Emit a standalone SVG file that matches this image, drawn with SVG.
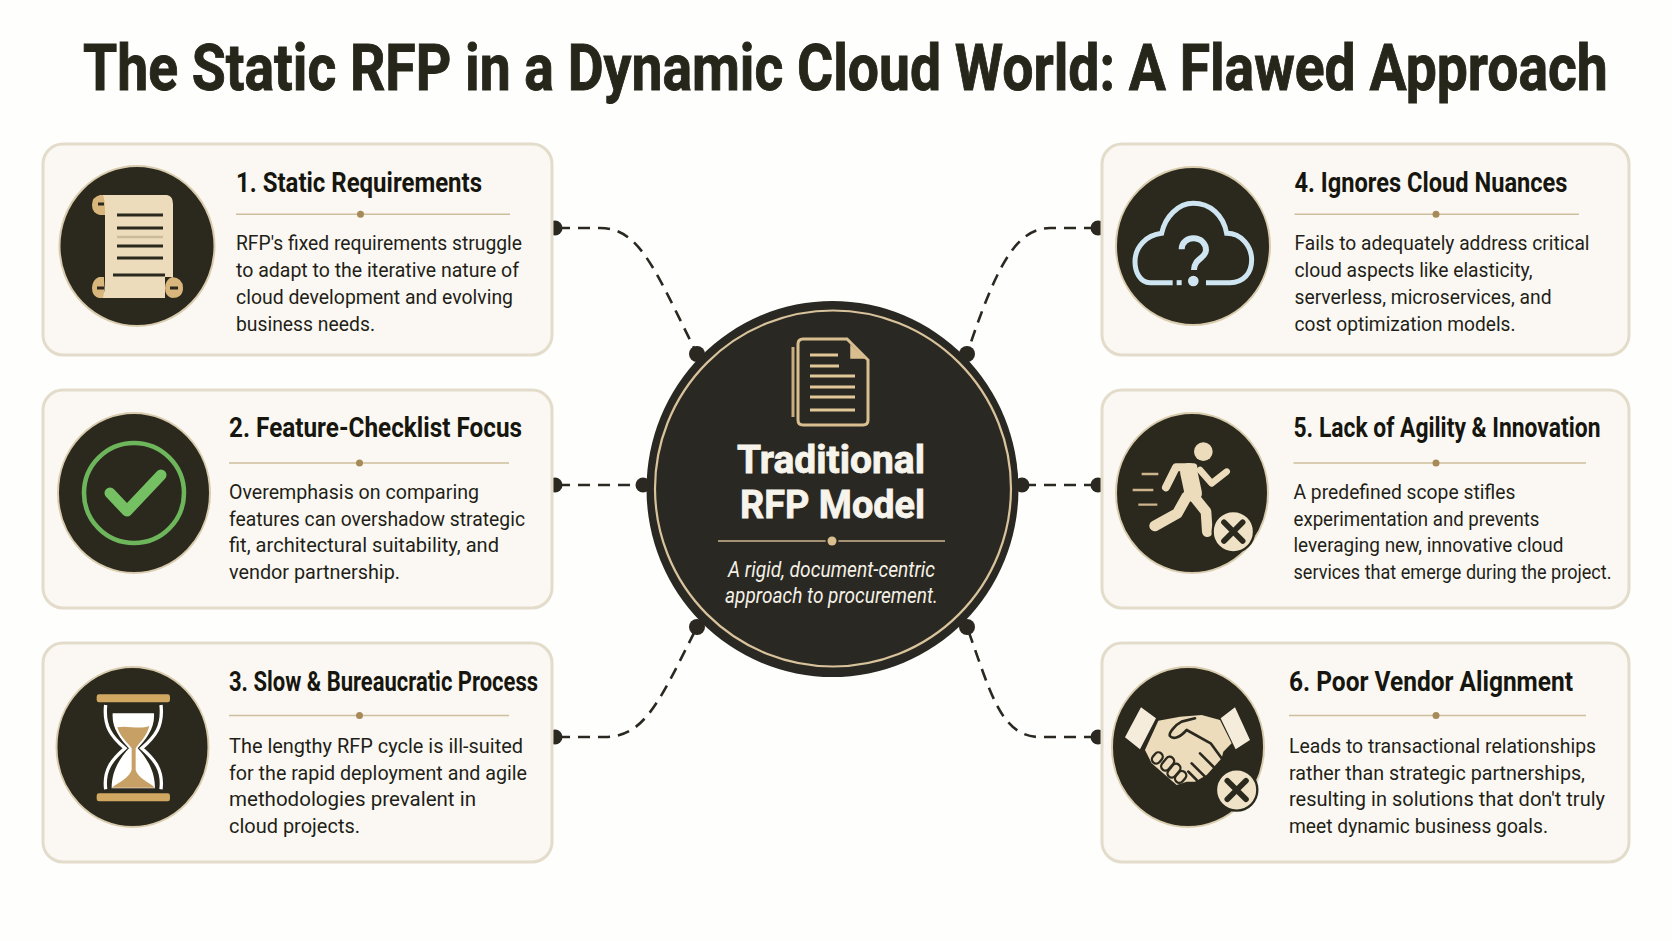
<svg xmlns="http://www.w3.org/2000/svg" width="1672" height="941" viewBox="0 0 1672 941">
<style>
text{font-family:Roboto,"Liberation Sans",sans-serif}
.title{font-size:64px;font-weight:700;fill:#26261a;stroke:#26261a;stroke-width:.9}
.h{font-size:28px;font-weight:700;fill:#16160f}
.b{font-size:21px;fill:#1f1f18}
.card{fill:#fbf8f3;stroke:#e3dccb;stroke-width:3}
.disc{fill:#2b291e;stroke:#d9ccae;stroke-width:2}
.rule{stroke:#cdbf9d;stroke-width:1.6}
.pip{fill:#a88a58}
.conn{fill:none;stroke:#2a2820;stroke-width:2.6;stroke-dasharray:12 8}
.jd{fill:#2a2820}
.ink{fill:none;stroke:#2b291e;stroke-linecap:round;stroke-linejoin:round}
.cream{fill:#ecdcbc}
.tan{fill:#d9b77c}
.lim{fill:none;stroke:#ecdcbc;stroke-linecap:round;stroke-linejoin:round}
</style>
<rect width="1672" height="941" fill="#fefefd"/>
<text id="title" class="title" transform="translate(83 90) scale(.8 1)" textLength="1906" lengthAdjust="spacingAndGlyphs">The Static RFP in a Dynamic Cloud World: A Flawed Approach</text>

<g id="connectors">
<path class="conn" d="M558 228H600C640 228 655 270 697 354"/>
<path class="conn" d="M558 485H644"/>
<path class="conn" d="M558 737H605C645 737 660 700 697 627"/>
<path class="conn" d="M1096 228H1050C1015 228 995 270 967 354"/>
<path class="conn" d="M1096 485H1022"/>
<path class="conn" d="M1096 737H1040C1000 737 990 690 967 627"/>
<circle class="jd" cx="555" cy="228" r="7.500"/><circle class="jd" cx="697" cy="354" r="8"/>
<circle class="jd" cx="555" cy="485" r="7.500"/><circle class="jd" cx="643" cy="485" r="7.500"/>
<circle class="jd" cx="555" cy="737" r="7.500"/><circle class="jd" cx="697" cy="627" r="8"/>
<circle class="jd" cx="1098" cy="228" r="7.500"/><circle class="jd" cx="967" cy="354" r="8"/>
<circle class="jd" cx="1098" cy="485" r="7.500"/><circle class="jd" cx="1022" cy="485" r="7.500"/>
<circle class="jd" cx="1098" cy="737" r="7.500"/><circle class="jd" cx="967" cy="627" r="8"/>
</g>

<g id="center">
<ellipse cx="832.500" cy="489" rx="186" ry="188" fill="#2a2822"/>
<circle cx="833" cy="488.500" r="178" fill="none" stroke="#d8c39c" stroke-width="2.200"/>
<path d="M793 347V417" fill="none" stroke="#c9ad7c" stroke-width="3"/>
<path d="M803 339H847L868 360V420Q868 425 863 425H803Q798 425 798 420V344Q798 339 803 339Z" fill="#2a2822" stroke="#d9bf8f" stroke-width="3"/>
<path d="M851 346V358H864Z" fill="#d9bf8f" stroke="#d9bf8f" stroke-width="1.500"/>
<path d="M810 355H838M810 366H839M810 376H855M810 387H855M810 397H855M810 410H855" stroke="#e0c898" stroke-width="3.200" fill="none"/>
<text x="737" y="473" font-size="38" font-weight="700" fill="#f7f4ec" stroke="#f7f4ec" stroke-width=".8" textLength="188" lengthAdjust="spacingAndGlyphs">Traditional</text>
<text x="740" y="518" font-size="38" font-weight="700" fill="#f7f4ec" stroke="#f7f4ec" stroke-width=".8" textLength="185" lengthAdjust="spacingAndGlyphs">RFP Model</text>
<path d="M718 541H945" stroke="#cdb78f" stroke-width="1.600"/>
<circle cx="832" cy="541" r="6.500" fill="#2a2822"/><circle cx="832" cy="541" r="4.500" fill="#d9bf8f"/>
<text x="728" y="577" font-size="22" font-style="italic" fill="#f4f0e6" textLength="207" lengthAdjust="spacingAndGlyphs">A rigid, document-centric</text>
<text x="725" y="603" font-size="22" font-style="italic" fill="#f4f0e6" textLength="213" lengthAdjust="spacingAndGlyphs">approach to procurement.</text>
</g>

<g id="card1">
<rect class="card" x="43" y="144" width="509" height="211" rx="20"/>
<ellipse class="disc" cx="137" cy="246" rx="77.500" ry="80"/>
<path class="tan" d="M105 195H100Q92 197 92 205T100 215H105ZM104 277H99Q92 280 92 288T99 298H104Z"/>
<path class="cream" d="M103 195H167Q173 196 173 204V277H165V298H103Q105 290 105 280V210Q105 200 103 195Z"/>
<path class="tan" d="M172 277Q183 278 183 288T172 298Q165 296 165 288T172 277Z"/>
<path d="M117 215H163M117 228H163M117 246H163M117 258H163M113 275H165M98 204H104M97 288H104M170 288H178" stroke="#2b291e" stroke-width="3" fill="none"/>
<path d="M117 237H163" stroke="#c9bb9c" stroke-width="2.500" fill="none"/>
<text class="h" x="236" y="192" textLength="246" lengthAdjust="spacingAndGlyphs">1. Static Requirements</text>
<path class="rule" d="M236 214.300H510"/><circle class="pip" cx="360.500" cy="214.300" r="3.500"/>
<text class="b" x="236" y="250" textLength="286" lengthAdjust="spacingAndGlyphs">RFP's fixed requirements struggle</text>
<text class="b" x="236" y="277" textLength="283" lengthAdjust="spacingAndGlyphs">to adapt to the iterative nature of</text>
<text class="b" x="236" y="304" textLength="277" lengthAdjust="spacingAndGlyphs">cloud development and evolving</text>
<text class="b" x="236" y="331" textLength="139" lengthAdjust="spacingAndGlyphs">business needs.</text>
</g>

<g id="card2">
<rect class="card" x="43" y="390" width="509" height="218" rx="20"/>
<ellipse class="disc" cx="134" cy="493" rx="76" ry="80"/>
<circle cx="134" cy="493" r="50" fill="none" stroke="#6db65b" stroke-width="4.500"/>
<path d="M110 493L127 511L161 475" fill="none" stroke="#74c062" stroke-width="11" stroke-linecap="round" stroke-linejoin="round"/>
<text class="h" x="229" y="437" textLength="293" lengthAdjust="spacingAndGlyphs">2. Feature-Checklist Focus</text>
<path class="rule" d="M229 463H509"/><circle class="pip" cx="359.500" cy="463" r="3.500"/>
<text class="b" x="229" y="499" textLength="250" lengthAdjust="spacingAndGlyphs">Overemphasis on comparing</text>
<text class="b" x="229" y="526" textLength="296" lengthAdjust="spacingAndGlyphs">features can overshadow strategic</text>
<text class="b" x="229" y="552" textLength="270" lengthAdjust="spacingAndGlyphs">fit, architectural suitability, and</text>
<text class="b" x="229" y="579" textLength="171" lengthAdjust="spacingAndGlyphs">vendor partnership.</text>
</g>

<g id="card3">
<rect class="card" x="43" y="643" width="509" height="219" rx="20"/>
<ellipse class="disc" cx="132.500" cy="747" rx="76" ry="80"/>
<g transform="translate(40 650) scale(.3333)">
<path d="M218 190H342C345 235 320 265 293 295C320 325 345 360 345 415H215C215 360 240 325 267 295C240 265 215 235 218 190Z" fill="#fff"/>
<path d="M197 165C190 230 215 260 255 295C215 330 190 360 197 418M363 165C370 230 345 260 305 295C345 330 370 360 363 418" fill="none" stroke="#fff" stroke-width="10"/>
<path d="M232 232C260 225 300 240 328 228C320 260 300 275 287 295V360C295 385 325 395 345 413H215C240 395 265 385 275 360V295C260 275 240 260 232 232Z" fill="#c6a064"/>
<rect x="170" y="133" width="220" height="24" rx="7" fill="#d0a862"/>
<rect x="170" y="430" width="220" height="24" rx="7" fill="#d0a862"/>
</g>
<text class="h" x="229" y="691" textLength="309" lengthAdjust="spacingAndGlyphs">3. Slow &amp; Bureaucratic Process</text>
<path class="rule" d="M229 715.500H509"/><circle class="pip" cx="359.500" cy="715.500" r="3.500"/>
<text class="b" x="229" y="753" textLength="294" lengthAdjust="spacingAndGlyphs">The lengthy RFP cycle is ill-suited</text>
<text class="b" x="229" y="780" textLength="298" lengthAdjust="spacingAndGlyphs">for the rapid deployment and agile</text>
<text class="b" x="229" y="806" textLength="247" lengthAdjust="spacingAndGlyphs">methodologies prevalent in</text>
<text class="b" x="229" y="833" textLength="131" lengthAdjust="spacingAndGlyphs">cloud projects.</text>
</g>

<g id="card4">
<rect class="card" x="1102" y="144" width="527" height="211" rx="20"/>
<ellipse class="disc" cx="1193" cy="246" rx="77" ry="79"/>
<g transform="translate(1080 150) scale(.3333)" fill="none" stroke="#cfe6f2" stroke-width="15">
<path d="M278 398H210C180 398 165 365 165 335C165 290 200 255 245 250C255 200 295 160 340 160C390 160 430 195 440 250C485 250 515 290 515 330C515 370 490 398 450 398H378"/>
<path d="M290 398H305"/>
<path d="M305 298C305 275 325 265 340 265C365 265 378 283 378 300C378 325 342 325 342 360" stroke-width="18"/>
<circle cx="340" cy="393" r="16" fill="#cfe6f2" stroke="none"/>
</g>
<text class="h" x="1294.500" y="192" textLength="273" lengthAdjust="spacingAndGlyphs">4. Ignores Cloud Nuances</text>
<path class="rule" d="M1294.500 214.300H1579"/><circle class="pip" cx="1436" cy="214.300" r="3.500"/>
<text class="b" x="1294.500" y="250" textLength="295" lengthAdjust="spacingAndGlyphs">Fails to adequately address critical</text>
<text class="b" x="1294.500" y="277" textLength="238" lengthAdjust="spacingAndGlyphs">cloud aspects like elasticity,</text>
<text class="b" x="1294.500" y="304" textLength="257" lengthAdjust="spacingAndGlyphs">serverless, microservices, and</text>
<text class="b" x="1294.500" y="331" textLength="221" lengthAdjust="spacingAndGlyphs">cost optimization models.</text>
</g>

<g id="card5">
<rect class="card" x="1102" y="390" width="527" height="218" rx="20"/>
<ellipse class="disc" cx="1192" cy="493" rx="76" ry="80"/>
<g transform="translate(1080 380) scale(.3333)">
<path d="M185 282H235M158 330H220M175 374H232" stroke="#cdb48c" stroke-width="7" fill="none"/>
<circle class="cream" cx="370" cy="215" r="28"/>
<path class="lim" stroke-width="24" d="M340 262H288L258 322"/>
<path class="lim" stroke-width="20" d="M360 270L395 310L440 275"/>
<path class="lim" stroke-width="52" d="M326 275L340 340"/>
<path class="lim" stroke-width="32" d="M320 350L292 400L224 438"/>
<path class="lim" stroke-width="32" d="M338 345L378 395L382 455"/>
<circle cx="460" cy="455" r="62" fill="#efe2c6" stroke="#2b291e" stroke-width="7"/>
<path class="ink" stroke-width="17" d="M432 427L488 483M488 427L432 483"/>
</g>
<text class="h" x="1293.500" y="437" textLength="307" lengthAdjust="spacingAndGlyphs">5. Lack of Agility &amp; Innovation</text>
<path class="rule" d="M1293.500 463H1586"/><circle class="pip" cx="1436" cy="463" r="3.500"/>
<text class="b" x="1293.500" y="499" textLength="222" lengthAdjust="spacingAndGlyphs">A predefined scope stifles</text>
<text class="b" x="1293.500" y="526" textLength="246" lengthAdjust="spacingAndGlyphs">experimentation and prevents</text>
<text class="b" x="1293.500" y="552" textLength="270" lengthAdjust="spacingAndGlyphs">leveraging new, innovative cloud</text>
<text class="b" x="1293.500" y="579" textLength="318" lengthAdjust="spacingAndGlyphs">services that emerge during the project.</text>
</g>

<g id="card6">
<rect class="card" x="1102" y="643" width="527" height="219" rx="20"/>
<ellipse class="disc" cx="1188" cy="747" rx="76" ry="80"/>
<g transform="translate(1080 650) scale(.3333)">
<path d="M183 172L228 205L180 298L135 262ZM465 172L510 270L467 298L422 205Z" fill="#f5ecdc"/>
<path class="cream" d="M235 212L300 200L365 195L420 210L455 280L430 305L425 325L380 375L345 395L320 395L290 405L215 340L195 300Z"/>
<path class="ink" stroke-width="8" d="M345 205L305 215C285 225 265 250 270 258C280 270 300 262 320 240L392 280L425 325M360 310L410 360M335 340L375 380M325 365L350 390"/>
<g class="cream" stroke="#2b291e" stroke-width="7">
<rect x="214" y="311" width="36" height="26" rx="13" transform="rotate(-50 232 324)"/>
<rect x="240" y="328" width="46" height="26" rx="13" transform="rotate(-50 263 341)"/>
<rect x="259" y="349" width="46" height="26" rx="13" transform="rotate(-50 282 362)"/>
<rect x="283" y="368" width="38" height="26" rx="13" transform="rotate(-50 302 381)"/>
</g>
<circle cx="470" cy="420" r="62" fill="#efe2c6" stroke="#2b291e" stroke-width="7"/>
<path class="ink" stroke-width="17" d="M442 392L498 448M498 392L442 448"/>
</g>
<text class="h" x="1289" y="691" textLength="284" lengthAdjust="spacingAndGlyphs">6. Poor Vendor Alignment</text>
<path class="rule" d="M1289 715.500H1586"/><circle class="pip" cx="1436" cy="715.500" r="3.500"/>
<text class="b" x="1289" y="753" textLength="307" lengthAdjust="spacingAndGlyphs">Leads to transactional relationships</text>
<text class="b" x="1289" y="780" textLength="296" lengthAdjust="spacingAndGlyphs">rather than strategic partnerships,</text>
<text class="b" x="1289" y="806" textLength="316" lengthAdjust="spacingAndGlyphs">resulting in solutions that don't truly</text>
<text class="b" x="1289" y="833" textLength="259" lengthAdjust="spacingAndGlyphs">meet dynamic business goals.</text>
</g>
</svg>
